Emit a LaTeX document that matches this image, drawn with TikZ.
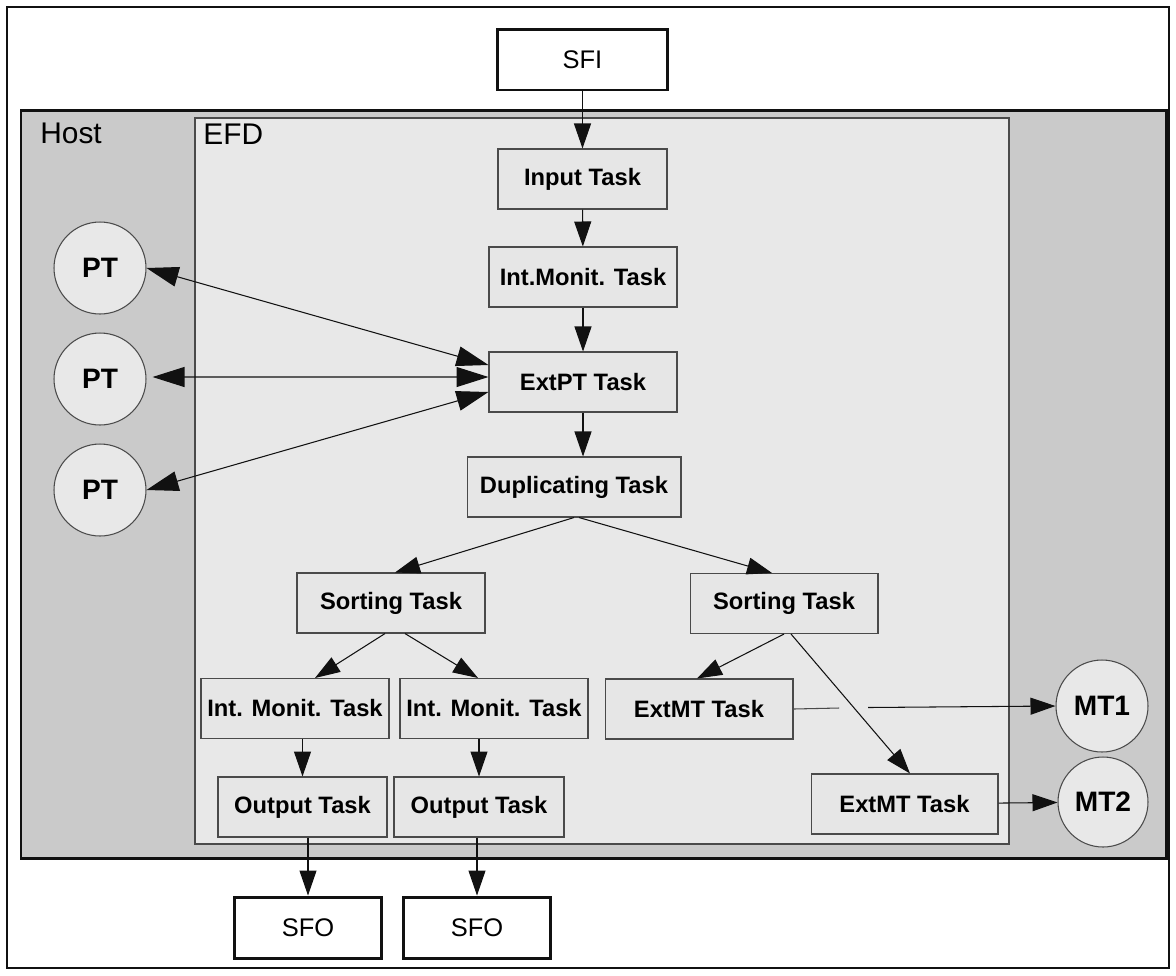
\documentclass[tikz,border=0pt]{standalone}
\usepackage{fontspec}
\setmainfont{Liberation Sans}
\usetikzlibrary{arrows.meta}
\definecolor{ink}{HTML}{111111}
\definecolor{edge}{HTML}{4A4A4A}
\definecolor{hostfill}{HTML}{CACACA}
\definecolor{efdfill}{HTML}{E8E8E8}
\definecolor{taskfill}{HTML}{E6E6E6}
\tikzset{
  taskbox/.style={draw=edge,fill=taskfill,line width=0.6pt,inner sep=0pt,
    minimum height=1.2cm,font=\bfseries\fontsize{13.5}{16}\selectfont},
  streambox/.style={draw=ink,fill=white,line width=1.7pt,inner sep=0pt,
    minimum height=1.22cm,font=\fontsize{14.5}{17}\selectfont},
  procnode/.style={circle,draw=edge,fill=efdfill,line width=0.6pt,inner sep=0pt,
    minimum size=1.84cm,font=\bfseries\fontsize{16}{19}\selectfont},
  zonelabel/.style={anchor=west,inner sep=0pt,font=\fontsize{17}{20}\selectfont},
  flowarrow/.style={-{Triangle[length=5mm,width=3.4mm]},line width=0.6pt,draw=ink},
  ptarrow/.style={{Triangle[length=6.4mm,width=4mm]}-{Triangle[length=6.4mm,width=4mm]},
    line width=0.6pt,draw=ink}
}

\begin{document}
\begin{tikzpicture}[x=0.02cm,y=-0.02cm]
\useasboundingbox (0,0) rectangle (1176,975);
\draw[ink,line width=1.2pt] (7,7) rectangle (1169,968);
\draw[ink,line width=1.7pt,fill=hostfill] (21,110) rectangle (1166,858);
\draw[edge,line width=0.6pt,fill=efdfill] (195,118) rectangle (1009,844);
\node[zonelabel] (hostlabel) at (40,133) {Host};
\node[zonelabel] (efdlabel) at (203,134) {EFD};

\node[streambox,minimum width=3.42cm] (sfi) at (582.5,59.5) {SFI};
\node[taskbox,minimum width=3.38cm] (input) at (582.5,179) {Input Task};
\node[taskbox,minimum width=3.76cm] (intmon) at (583,277) {Int.Monit. Task};
\node[taskbox,minimum width=3.76cm] (extpt) at (583,382) {ExtPT Task};
\node[taskbox,minimum width=4.28cm] (dup) at (574,487) {Duplicating Task};
\node[taskbox,minimum width=3.76cm] (sortl) at (391,603) {Sorting Task};
\node[taskbox,minimum width=3.76cm] (sortr) at (784,603.5) {Sorting Task};
\node[taskbox,minimum width=3.76cm] (intmonl) at (295,708.5) {Int. Monit. Task};
\node[taskbox,minimum width=3.76cm] (intmonr) at (494,708.5) {Int. Monit. Task};
\node[taskbox,minimum width=3.38cm] (outl) at (302.5,807) {Output Task};
\node[taskbox,minimum width=3.4cm] (outr) at (479,807) {Output Task};
\node[streambox,minimum width=2.96cm] (sfol) at (308,927.5) {SFO};
\node[streambox,minimum width=2.96cm] (sfor) at (477,927.5) {SFO};
\node[taskbox,minimum width=3.76cm] (extmtu) at (699,709) {ExtMT Task};
\node[taskbox,minimum width=3.74cm] (extmtl) at (904.5,804) {ExtMT Task};
\node[procnode] (pt1) at (100,268) {PT};
\node[procnode] (pt2) at (100,379) {PT};
\node[procnode] (pt3) at (100,490) {PT};
\node[procnode] (mt1) at (1102,706) {MT1};
\node[procnode,minimum size=1.8cm] (mt2) at (1103,802) {MT2};

\draw[flowarrow] (sfi) -- (input);
\draw[flowarrow] (input) -- (intmon);
\draw[flowarrow] (intmon) -- (extpt);
\draw[flowarrow] (extpt.south) -- (extpt.south |- dup.north);
\draw[flowarrow] (dup.south) -- ([xshift=0.08cm]sortl.north);
\draw[flowarrow] ([xshift=0.1cm]dup.south) -- ([xshift=-0.24cm]sortr.north);
\draw[flowarrow] ([xshift=-0.12cm]sortl.south) -- ([xshift=0.4cm]intmonl.north);
\draw[flowarrow] ([xshift=0.28cm]sortl.south) -- ([xshift=-0.32cm]intmonr.north);
\draw[flowarrow] (outl.north |- intmonl.south) -- (outl.north);
\draw[flowarrow] (outr.north |- intmonr.south) -- (outr.north);
\draw[flowarrow] (sfol.north |- outl.south) -- (sfol.north);
\draw[flowarrow] (sfor.north |- outr.south) -- (sfor.north);
\draw[flowarrow] (sortr.south) -- ([xshift=-0.04cm]extmtu.north);
\draw[flowarrow] ([xshift=0.14cm]sortr.south) -- ([xshift=0.11cm]extmtl.north);
\coordinate (jumpl) at (839,708);
\coordinate (jumpr) at (868,707.5);
\draw[line width=0.6pt,draw=edge] (extmtu.east) -- (jumpl);
\draw[flowarrow] (jumpr) -- (mt1.west);
\draw[flowarrow] (extmtl) -- (mt2);
\draw[ptarrow] ([yshift=0.34cm]extpt.west) -- (pt1.east);
\draw[ptarrow,shorten >=1.2mm] ([yshift=0.1cm]extpt.west) -- ([yshift=0.04cm]pt2.east);
\draw[ptarrow] ([yshift=-0.2cm]extpt.west) -- (pt3.east);
\end{tikzpicture}
\end{document}
